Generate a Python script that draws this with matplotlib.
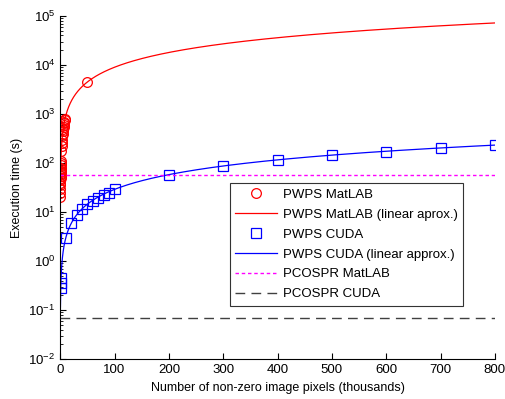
import numpy as np
import matplotlib
matplotlib.use('Agg')
import matplotlib.pyplot as plt

plt.rcParams['font.family'] = ['Liberation Sans', 'DejaVu Sans']

# measured points (x in thousands of pixels, y in seconds)
matlab_y = [20, 25, 30, 35, 40, 45, 50, 55, 60, 65, 70, 75, 80, 90, 100, 110,
            180, 220, 260, 300, 350, 400, 450, 500, 550, 600, 650, 700, 750, 800, 4500]
matlab_x = [0.22, 0.28, 0.33, 0.39, 0.44, 0.5, 0.56, 0.61, 0.67, 0.72, 0.78, 0.83, 0.89, 1.0, 1.1, 1.2,
            2.0, 2.4, 2.9, 3.3, 3.9, 4.4, 5.0, 5.6, 6.1, 6.7, 7.2, 7.8, 8.3, 8.9, 50]
cuda_x = [1.0, 1.2, 1.5, 10, 20, 30, 40, 50, 60, 70, 80, 90, 100, 200, 300, 400, 500, 600, 700, 800]
cuda_y = [0.28, 0.35, 0.45, 3.0, 6.0, 8.7, 11.5, 14.5, 16.7, 19.5, 22, 25, 30, 58, 87, 115, 145, 166, 205, 233]

# linear approximations: y = slope * x over the range
fit_range = (0.4, 800)
matlab_slope = 90.0
cuda_slope = 0.29
pcospr_matlab = 57.0
pcospr_cuda = 0.07

fig = plt.figure(figsize=(5.06, 3.99), dpi=100)
ax = fig.add_axes([0.119, 0.100, 0.859, 0.860])

fx = np.linspace(fit_range[0], fit_range[1], 4000)
ax.plot(matlab_x, matlab_y, 'o', mfc='none', mec='#ff0000', ms=7, mew=0.9, label='PWPS MatLAB')
ax.plot(fx, matlab_slope * fx, '-', color='#ff0000', lw=0.9, label='PWPS MatLAB (linear aprox.)')
ax.plot(cuda_x, cuda_y, 's', mfc='none', mec='#0000ff', ms=7.5, mew=0.9, label='PWPS CUDA')
ax.plot(fx, cuda_slope * fx, '-', color='#0000ff', lw=0.9, label='PWPS CUDA (linear approx.)')
ax.plot([0, 800], [pcospr_matlab] * 2, color='#ff00ff', lw=1.0, dashes=(2.5, 2), label='PCOSPR MatLAB')
ax.plot([0, 800], [pcospr_cuda] * 2, color='#404040', lw=1.0, dashes=(7, 4.5), label='PCOSPR CUDA')

ax.set_yscale('log')
ax.set_xlim(0, 800)
ax.set_ylim(1e-2, 1e5)
ax.set_xticks(range(0, 801, 100))
ax.spines['top'].set_visible(False)
ax.spines['right'].set_visible(False)
ax.tick_params(which='both', direction='in', labelsize=9.5)
ax.tick_params(which='major', length=4)
ax.tick_params(which='minor', length=2)
ax.set_xlabel('Number of non-zero image pixels (thousands)', fontsize=9)
ax.set_ylabel('Execution time (s)', fontsize=9)

leg = ax.legend(loc='upper right', bbox_to_anchor=(0.926, 0.512), fontsize=9.5,
                handlelength=3.2, fancybox=False, framealpha=1, edgecolor='#333333',
                borderaxespad=0, labelspacing=0.58, handletextpad=0.4)
leg.get_frame().set_linewidth(0.8)

fig.savefig('out.png', dpi=100)
